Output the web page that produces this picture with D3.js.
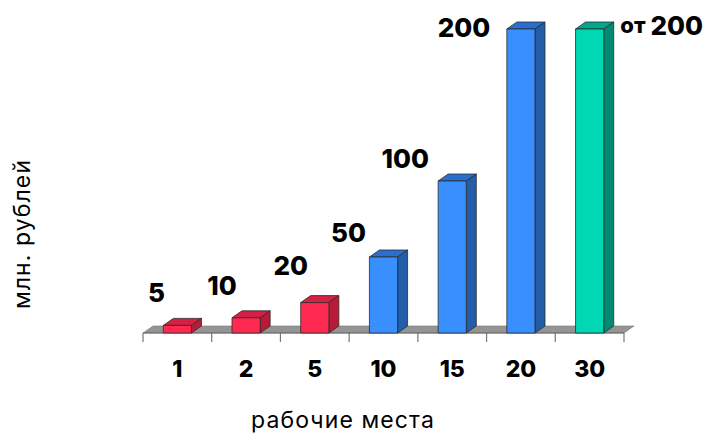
<!DOCTYPE html>
<html lang="ru">
<head>
<meta charset="UTF-8">
<title>Рабочие места</title>
<script src="https://d3js.org/d3.v7.min.js"></script>
<style>
  html, body { margin: 0; background: #fff; }
  svg { display: block; }
  text { font-family: Inter, "Open Sans", sans-serif; fill: #000; }
  .val { font-weight: 800; font-size: 26px; }
  .val .small { font-size: 22px; }
  .title { font-size: 23px; letter-spacing: 1.1px; }
</style>
</head>
<body>
<svg id="chart" width="704" height="434"></svg>
<script>
// data
const jobs = ["1", "2", "5", "10", "15", "20", "30"];
const values = [5, 10, 20, 50, 100, 200, 200];
const valueLabels = ["5", "10", "20", "50", "100", "200", "200"];
const valuePrefixes = ["", "", "", "", "", "", "от "];
const groups = ["red", "red", "red", "blue", "blue", "blue", "green"];

const palette = {
  red: { front: "#ff2a52", top: "#d61f42", side: "#b91a38" },
  blue: { front: "#3a8fff", top: "#2a6fd0", side: "#235ca8" },
  green: { front: "#00d8b4", top: "#00a98c", side: "#008a72" }
};
// label offset from the top centre of each bar
const labelDx = [-21, -24, -24, -35, -47, -57, 72];
const labelDy = [-33, -33, -38, -25, -23, -2, -4];

const depthX = 10, depthY = 7;
const x = d3.scaleBand().domain(jobs).range([143, 624]).paddingInner(0.59).paddingOuter(0.295);
const y = d3.scaleLinear().domain([0, 200]).range([333, 29]);
const svg = d3.select("#chart");

// grey floor
const floor = d3.path();
floor.moveTo(143, y(0));
floor.lineTo(143 + depthX, y(0) - depthY);
floor.lineTo(624 + depthX, y(0) - depthY);
floor.lineTo(624, y(0));
floor.closePath();
svg.append("path").attr("d", floor.toString()).attr("fill", "#949494").attr("stroke", "#777").attr("stroke-width", 0.6);

// axis: labels from d3, ticks on the band edges
const axis = svg.append("g").attr("transform", `translate(0,${y(0)})`)
  .call(d3.axisBottom(x).tickSize(0).tickPadding(27));
axis.select(".domain").remove();
axis.selectAll("text").attr("fill", null).style("font-size", "23px").style("font-weight", 800).attr("dy", "0.75em");
const step = x.step();
const edges = d3.range(jobs.length + 1).map(i => 143 + i * step);
axis.selectAll(".edge").data(edges).enter().append("line").attr("class", "edge")
  .attr("x1", d => d).attr("x2", d => d).attr("y1", 0).attr("y2", 9)
  .attr("stroke", "#777").attr("stroke-width", 1.2);
axis.append("line").attr("x1", 143).attr("x2", 624).attr("stroke", "#666").attr("stroke-width", 1);

// bars
const bars = svg.selectAll(".bar").data(jobs).enter().append("g").attr("class", "bar");
const outline = { stroke: "#2c2c2c", sw: 0.8 };
function face(sel, fn, color) {
  sel.append("path").attr("d", fn).attr("fill", color).attr("stroke", outline.stroke).attr("stroke-width", outline.sw);
}
bars.each(function (d, i) {
  const g = d3.select(this), c = palette[groups[i]];
  const l = x(d), r = l + x.bandwidth(), t = y(values[i]), b = y(0);
  face(g, `M${l},${t}L${l + depthX},${t - depthY}L${r + depthX},${t - depthY}L${r},${t}Z`, c.top);
  face(g, `M${r},${t}L${r + depthX},${t - depthY}L${r + depthX},${b - depthY}L${r},${b}Z`, c.side);
  face(g, `M${l},${t}H${r}V${b}H${l}Z`, c.front);
});

// value labels
const vals = svg.selectAll(".val").data(jobs).enter().append("text").attr("class", "val")
  .attr("text-anchor", "middle").attr("dominant-baseline", "central")
  .attr("x", (d, i) => x(d) + x.bandwidth() / 2 + labelDx[i])
  .attr("y", (d, i) => y(values[i]) + labelDy[i]);
vals.append("tspan").attr("class", "small").text((d, i) => valuePrefixes[i]);
vals.append("tspan").text((d, i) => valueLabels[i]);

svg.append("text").attr("class", "title").attr("text-anchor", "middle")
  .attr("x", 343).attr("y", 428).text("рабочие места");
svg.append("text").attr("class", "title").attr("text-anchor", "middle")
  .attr("transform", "translate(30,234) rotate(-90)").text("млн. рублей");
</script>
</body>
</html>
